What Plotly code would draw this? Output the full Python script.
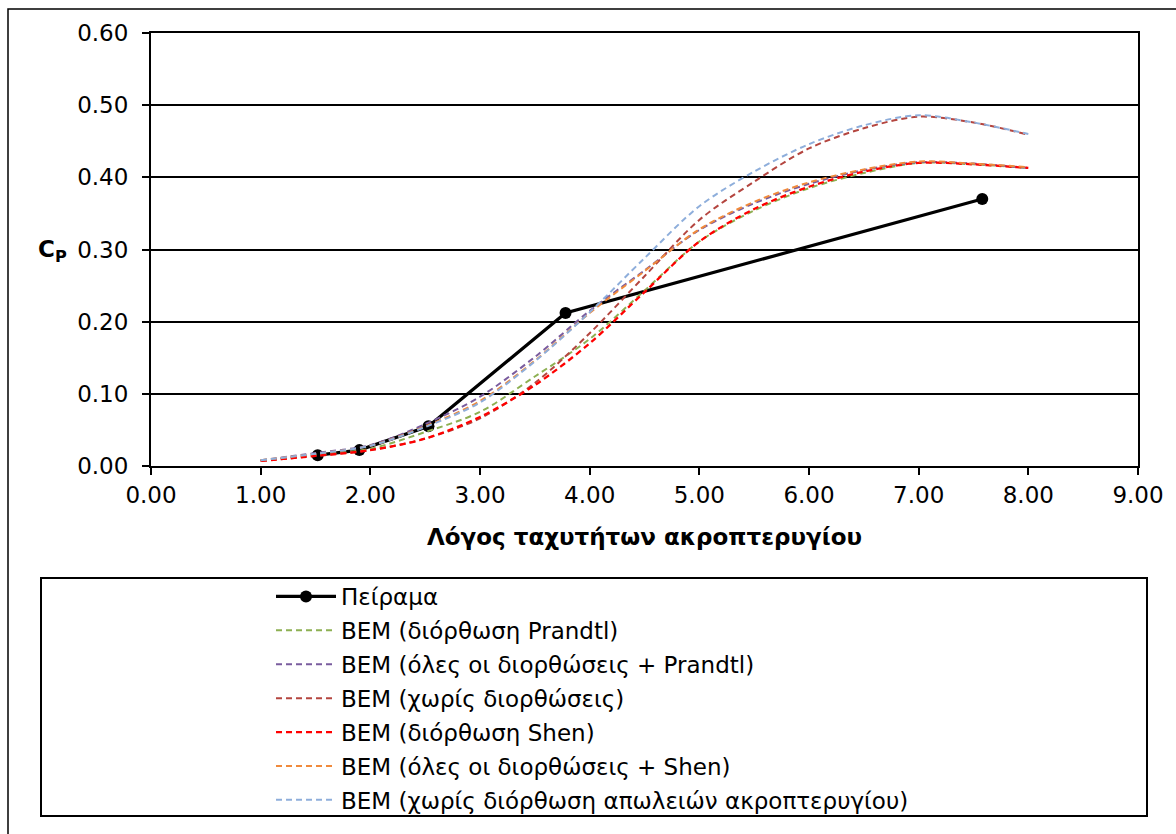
import plotly.graph_objects as go

# ---- data ----
exp_tsr = [1.52, 1.90, 2.53, 3.78, 7.58]
exp_cp = [0.015, 0.022, 0.055, 0.212, 0.370]

bem_tsr = [1.0, 1.5, 2.0, 2.5, 3.0, 3.5, 4.0, 4.5, 5.0, 5.5, 6.0, 6.5, 7.0, 7.5, 8.0]
cp_prandtl = [0.008, 0.015, 0.024, 0.047, 0.075, 0.124, 0.176, 0.243, 0.311, 0.354, 0.385, 0.406, 0.420, 0.418, 0.413]
cp_all_prandtl = [0.008, 0.018, 0.029, 0.058, 0.096, 0.151, 0.215, 0.271, 0.327, 0.364, 0.391, 0.410, 0.421, 0.419, 0.413]
cp_none = [0.007, 0.014, 0.022, 0.038, 0.066, 0.115, 0.184, 0.263, 0.341, 0.394, 0.440, 0.468, 0.484, 0.476, 0.459]
cp_shen = [0.007, 0.014, 0.022, 0.038, 0.068, 0.112, 0.170, 0.241, 0.311, 0.356, 0.387, 0.408, 0.420, 0.418, 0.413]
cp_all_shen = [0.008, 0.017, 0.028, 0.055, 0.090, 0.146, 0.212, 0.270, 0.328, 0.366, 0.393, 0.411, 0.422, 0.419, 0.414]
cp_no_tiploss = [0.008, 0.017, 0.028, 0.054, 0.088, 0.145, 0.213, 0.288, 0.360, 0.408, 0.446, 0.472, 0.486, 0.476, 0.460]

names = [
    "BEM (διόρθωση Prandtl)",
    "BEM (όλες οι διορθώσεις + Prandtl)",
    "BEM (χωρίς διορθώσεις)",
    "BEM (διόρθωση Shen)",
    "BEM (όλες οι διορθώσεις + Shen)",
    "BEM (χωρίς διόρθωση απωλειών ακροπτερυγίου)",
]
series = [cp_prandtl, cp_all_prandtl, cp_none, cp_shen, cp_all_shen, cp_no_tiploss]
colors = ["#8DB052", "#7A5C9E", "#B4453F", "#FF0000", "#F08A3C", "#8EAEDB"]
widths = [2.0, 2.0, 2.0, 2.3, 2.0, 2.0]

x_ticks = [0, 1, 2, 3, 4, 5, 6, 7, 8, 9]
y_ticks = [0.0, 0.1, 0.2, 0.3, 0.4, 0.5, 0.6]

FONT = "DejaVu Sans, Liberation Sans, Arial, sans-serif"
FS = 23

fig = go.Figure()
fig.add_trace(go.Scatter(
    x=exp_tsr, y=exp_cp, name="Πείραμα", mode="lines+markers",
    line=dict(color="black", width=3.2),
    marker=dict(color="black", size=12, symbol="circle"),
    legendgroup="g0",
))
for i, (nm, ys, c, w) in enumerate(zip(names, series, colors, widths)):
    fig.add_trace(go.Scatter(
        x=bem_tsr, y=ys, name=nm, mode="lines",
        line=dict(color=c, width=w, dash="6px,4px", shape="spline", smoothing=0.9),
        legendgroup=f"g{i+1}",
    ))

# plot area in px: x 151..1138, y 33..466
L, R, T, B = 151, 1138, 33, 466
W, H = 1176, 834
pw, ph = R - L, B - T

def px2paper_x(px):
    return (px - L) / pw

def px2paper_y(py):
    return (B - py) / ph

shapes = [
    # outer chart border (right/bottom outside the view)
    dict(type="rect", xref="paper", yref="paper",
         x0=px2paper_x(8), x1=px2paper_x(1185), y0=px2paper_y(845), y1=px2paper_y(9),
         line=dict(color="black", width=1.5), fillcolor="rgba(0,0,0,0)", layer="below"),
    # legend box
    dict(type="rect", xref="paper", yref="paper",
         x0=px2paper_x(41), x1=px2paper_x(1147), y0=px2paper_y(816), y1=px2paper_y(578),
         line=dict(color="black", width=2), fillcolor="rgba(0,0,0,0)", layer="below"),
]

fig.update_layout(
    width=W, height=H,
    margin=dict(l=L, r=W - R, t=T, b=H - B, autoexpand=False),
    paper_bgcolor="white", plot_bgcolor="white",
    font=dict(family=FONT, size=FS, color="black"),
    showlegend=True,
    legend=dict(
        x=px2paper_x(271), y=px2paper_y(575), xanchor="left", yanchor="top",
        bgcolor="rgba(0,0,0,0)", borderwidth=0,
        font=dict(family=FONT, size=FS, color="black"),
        tracegroupgap=1, itemwidth=60,
    ),
    shapes=shapes,
    annotations=[
        dict(text="<b>C<sub>P</sub></b>", xref="paper", yref="paper",
             x=px2paper_x(52), y=px2paper_y(251), xanchor="center", yanchor="middle",
             showarrow=False, font=dict(family=FONT, size=FS, color="black")),
    ],
)
fig.update_xaxes(
    range=[0, 9], tickvals=x_ticks, tickformat=".2f", tickangle=0,
    showgrid=False, zeroline=False,
    showline=True, linecolor="black", linewidth=2, mirror=True,
    ticks="outside", ticklen=7, tickwidth=1.5, tickcolor="black",
    ticklabelstandoff=0,
    title=dict(text="<b>Λόγος ταχυτήτων ακροπτερυγίου</b>", standoff=22,
               font=dict(family=FONT, size=FS, color="black")),
)
fig.update_yaxes(
    range=[0, 0.6], tickvals=y_ticks, tickformat=".2f",
    showgrid=True, gridcolor="black", gridwidth=2, zeroline=False,
    showline=True, linecolor="black", linewidth=2, mirror=True,
    ticks="outside", ticklen=7, tickwidth=1.5, tickcolor="black",
    ticklabelstandoff=9,
)

fig.write_html("out.html")
